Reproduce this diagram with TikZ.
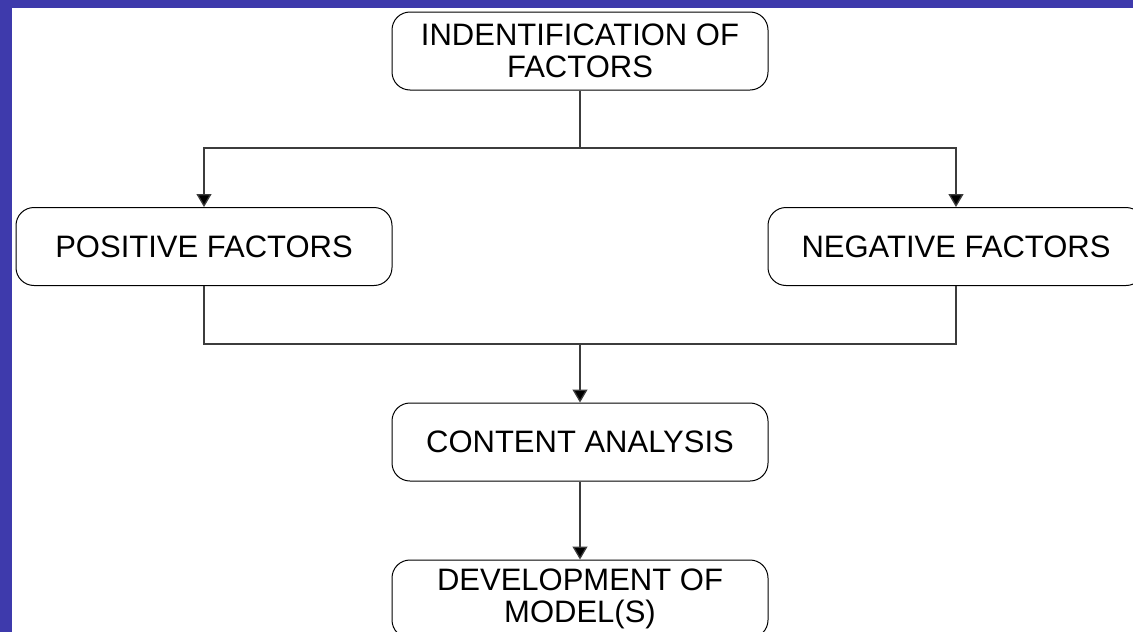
\documentclass[tikz,border=0pt]{standalone}
\usepackage{fontspec}
\setmainfont{Liberation Sans}
\usetikzlibrary{arrows.meta}
\definecolor{bgblue}{RGB}{62,58,172}
\definecolor{linegray}{RGB}{60,60,60}
\begin{document}
\begin{tikzpicture}[x=1pt,y=-1pt,
  box/.style={draw=black, line width=1pt, fill=white, rounded corners=18pt,
    minimum width=376pt, minimum height=78pt, align=center, inner sep=0pt,
    font=\fontsize{31}{32}\selectfont},
  conn/.style={draw=linegray, line width=1.3pt},
  arr/.style={conn, -{Triangle[length=13pt,width=15pt,fill=black]}}]
\useasboundingbox (0,0) rectangle (1133,632);
\clip (0,0) rectangle (1133,632);
\fill[bgblue] (0,0) rectangle (1133,632);
\fill[white] (12,8) rectangle (1140,640);
\node[box] (top) at (580,51) {INDENTIFICATION OF\\FACTORS};
\node[box] (pos) at (204,246.5) {POSITIVE FACTORS};
\node[box] (neg) at (956,246.5) {NEGATIVE FACTORS};
\node[box] (cont) at (580,442) {CONTENT ANALYSIS};
\node[box] (dev) at (580,599) {DEVELOPMENT OF\\MODEL(S)};
\coordinate (j1) at (580,148);
\coordinate (j2) at (580,344);
\draw[conn] (top.south) -- (j1);
\draw[arr] (j1) -| (pos.north);
\draw[arr] (j1) -| (neg.north);
\draw[conn] (pos.south) |- (j2);
\draw[conn] (neg.south) |- (j2);
\draw[arr] (j2) -- (cont.north);
\draw[arr] (cont.south) -- (dev.north);
\end{tikzpicture}
\end{document}
